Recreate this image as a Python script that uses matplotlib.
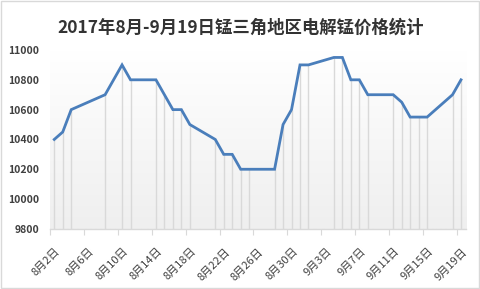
import numpy as np
import matplotlib
matplotlib.use('Agg')
import matplotlib.pyplot as plt
from matplotlib.patches import Rectangle
from matplotlib.transforms import ScaledTranslation
import datetime as dt

plt.rcParams['font.family'] = ['Noto Sans CJK SC', 'DejaVu Sans']

# 数据：日期（2017年）和价格
dates = ['08-02', '08-03', '08-04', '08-08', '08-10', '08-11', '08-14', '08-15',
         '08-16', '08-17', '08-18', '08-21', '08-22', '08-23', '08-24', '08-25',
         '08-28', '08-29', '08-30', '08-31', '09-01', '09-04', '09-05', '09-06',
         '09-07', '09-08', '09-11', '09-12', '09-13', '09-14', '09-15', '09-18',
         '09-19']
prices = [10400, 10450, 10600, 10700, 10900, 10800, 10800, 10700,
          10600, 10600, 10500, 10400, 10300, 10300, 10200, 10200,
          10200, 10500, 10600, 10900, 10900, 10950, 10950, 10800,
          10800, 10700, 10700, 10650, 10550, 10550, 10550, 10700,
          10800]
yticks = [9800, 10000, 10200, 10400, 10600, 10800, 11000]
title = '2017年8月-9月19日锰三角地区电解锰价格统计'

start = dt.date(2017, 8, 2)
days = [(dt.date(2017, int(d[:2]), int(d[3:])) - start).days for d in dates]

fig = plt.figure(figsize=(4.81, 2.89), dpi=100)
fig.patches.append(Rectangle((0.002, 0.004), 0.994, 0.992, transform=fig.transFigure,
                             fill=False, edgecolor='#d9d9d9', linewidth=1))

ax = fig.add_axes([0.104, 0.208, 0.865, 0.619])
ax.set_xlim(-0.5, 48.6)
ax.set_ylim(9800, 11000)

# 渐变背景
grad = np.linspace(0, 1, 100).reshape(-1, 1)
ax.imshow(grad, extent=[-0.5, 48.6, 9800, 11000], aspect='auto',
          cmap=matplotlib.colors.LinearSegmentedColormap.from_list('g', ['#ffffff', '#efefef']),
          origin='upper', zorder=0)

ax.vlines(days, 9800, prices, colors='#d9d9d9', linewidth=1, zorder=1)
ax.plot(days, prices, color='#4a7ebb', linewidth=2.0, zorder=3, solid_joinstyle='miter')

for s in ['top', 'right', 'left']:
    ax.spines[s].set_visible(False)
ax.spines['bottom'].set_color('#d9d9d9')
ax.spines['bottom'].set_linewidth(1)

ax.set_yticks(yticks)
ax.set_yticklabels([str(v) for v in yticks], fontsize=7.5, color='#404040', fontweight='bold')
ax.tick_params(axis='y', length=0, pad=8)

tick_pos = [4 * k - 0.5 for k in range(13)]
tick_lab = []
for k in range(13):
    d = start + dt.timedelta(days=4 * k)
    tick_lab.append(f'{d.month}月{d.day}日')
ax.set_xticks(tick_pos)
ax.set_xticklabels(tick_lab, rotation=45, ha='right', va='top', rotation_mode='anchor',
                   fontsize=8, color='#404040')
ax.tick_params(axis='x', length=4, color='#d9d9d9', pad=2)
offset = ScaledTranslation(5 / 100, -9 / 100, fig.dpi_scale_trans)
for lab in ax.get_xticklabels():
    lab.set_transform(lab.get_transform() + offset)

fig.text(0.5, 0.905, title, ha='center', va='center', fontsize=12.5,
         fontweight='bold', color='#333333')

fig.savefig('out.png', dpi=100)
